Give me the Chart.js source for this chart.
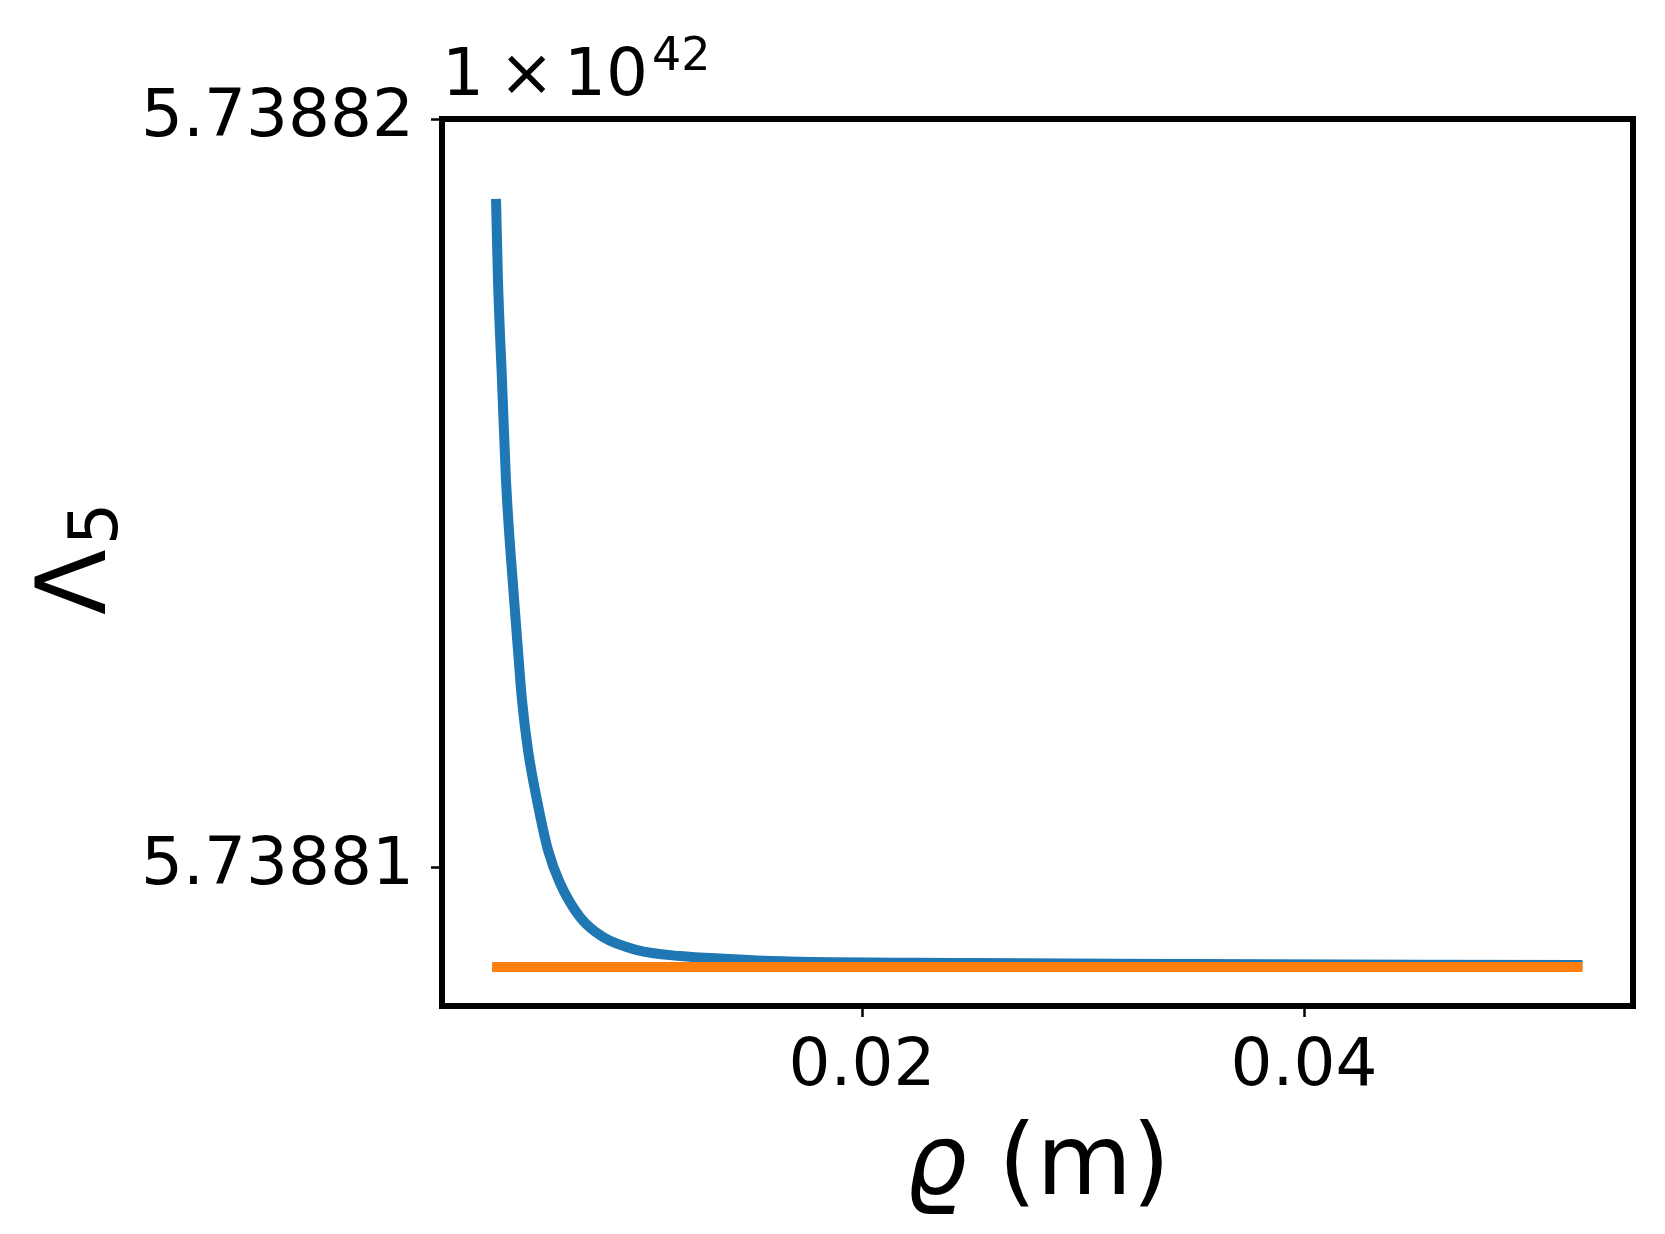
<!DOCTYPE html>
<html>
<head>
<meta charset="utf-8">
<script src="https://cdn.jsdelivr.net/npm/chart.js@4.4.1/dist/chart.umd.min.js"></script>
<style>
  html, body { margin: 0; padding: 0; background: #fff; }
  #contenedor { width: 1665px; height: 1234px; }
</style>
</head>
<body>
<div id="contenedor"><canvas id="grafica" width="1665" height="1234"></canvas></div>
<script>
// Valores: rho en metros, Lambda_5 en unidades de 1e42
const rhoAzul = [0.003439, 0.003529, 0.003710, 0.003891, 0.004253, 0.004434, 0.004615,
  0.004887, 0.005294, 0.005792, 0.006335, 0.007240, 0.008281, 0.009819, 0.011765,
  0.014027, 0.015837, 0.0250, 0.0350, 0.0526];
const lambdaAzul = [5.7388189319, 5.7388178371, 5.7388165020, 5.7388151669, 5.7388135914,
  5.7388128972, 5.7388122296, 5.7388115621, 5.7388108945, 5.7388102270, 5.7388097864,
  5.7388093324, 5.7388090654, 5.7388088919, 5.7388088117, 5.7388087717, 5.7388087450,
  5.7388087183, 5.7388087049, 5.7388086916];

const rhoNaranja = [0.00326, 0.0526];
const lambdaNaranja = [5.7388086649, 5.7388086649];

// Marcas de los ejes
const ticksX = [0.02, 0.04];
const ticksY = [5.73881, 5.73882];
const exponente = '42';

const fuente = '"DejaVu Sans", sans-serif';

// Dibuja el marco, el factor 1e42 y los títulos de los ejes
const marcoYEtiquetas = {
  id: 'marcoYEtiquetas',
  afterDraw(chart) {
    const { ctx, chartArea } = chart;
    ctx.save();
    ctx.strokeStyle = '#000';
    ctx.lineWidth = 6;
    ctx.strokeRect(chartArea.left, chartArea.top, chartArea.right - chartArea.left, chartArea.bottom - chartArea.top);

    ctx.fillStyle = '#000';
    ctx.textAlign = 'left';
    ctx.textBaseline = 'alphabetic';

    // factor de escala arriba a la izquierda
    ctx.font = '66px ' + fuente;
    ctx.fillText('1', 442, 95);
    ctx.fillText('\u00d7', 499, 95);
    ctx.fillText('10', 564, 95);
    ctx.font = '46px ' + fuente;
    ctx.fillText(exponente, 652, 70);

    // título del eje x: rho (m)
    const centroX = (chartArea.left + chartArea.right) / 2;
    ctx.font = 'italic 98px ' + fuente;
    const anchoRho = ctx.measureText('\u03f1').width;
    ctx.font = '98px ' + fuente;
    const anchoResto = ctx.measureText(' (m)').width;
    const inicio = centroX - (anchoRho + anchoResto) / 2;
    ctx.font = 'italic 98px ' + fuente;
    ctx.fillText('\u03f1', inicio, 1194);
    ctx.font = '98px ' + fuente;
    ctx.fillText(' (m)', inicio + anchoRho, 1194);

    // título del eje y: Lambda_5
    ctx.translate(105, 615);
    ctx.rotate(-Math.PI / 2);
    ctx.font = '96px ' + fuente;
    ctx.fillText('\u039b', 0, 0);
    const anchoLambda = ctx.measureText('\u039b').width;
    ctx.font = '67px ' + fuente;
    ctx.fillText('5', anchoLambda + 4, 12);
    ctx.restore();
  }
};

const lienzo = document.getElementById('grafica');

new Chart(lienzo, {
  type: 'line',
  data: {
    datasets: [{
      label: 'azul',
      data: rhoAzul.map((x, i) => ({ x: x, y: lambdaAzul[i] })),
      borderColor: '#1f77b4',
      borderWidth: 10,
      borderCapStyle: 'butt',
      pointRadius: 0,
      cubicInterpolationMode: 'monotone',
      fill: false,
      order: 2
    }, {
      label: 'naranja',
      data: rhoNaranja.map((x, i) => ({ x: x, y: lambdaNaranja[i] })),
      borderColor: '#ff7f0e',
      borderWidth: 10,
      borderCapStyle: 'butt',
      pointRadius: 0,
      fill: false,
      order: 1
    }]
  },
  options: {
    responsive: false,
    animation: false,
    devicePixelRatio: 1,
    layout: { padding: { top: 119, right: 32, left: 0, bottom: 0 } },
    plugins: {
      legend: { display: false },
      tooltip: { enabled: false },
      title: { display: false }
    },
    scales: {
      x: {
        type: 'linear',
        min: 0.000995,
        max: 0.054887,
        afterBuildTicks: (scale) => { scale.ticks = ticksX.map(v => ({ value: v })); },
        afterFit: (scale) => { scale.height = 228; },
        border: { display: false },
        grid: { display: true, drawOnChartArea: false, drawTicks: true, tickLength: 11, tickWidth: 2.5, color: '#000' },
        ticks: {
          color: '#000',
          padding: 11,
          maxRotation: 0,
          autoSkip: false,
          font: { family: 'DejaVu Sans', size: 66 },
          callback: (v) => Number(v).toFixed(2)
        }
      },
      y: {
        type: 'linear',
        min: 5.7388081442,
        max: 5.73882,
        afterBuildTicks: (scale) => { scale.ticks = ticksY.map(v => ({ value: v })); },
        afterFit: (scale) => { scale.width = 442; },
        border: { display: false },
        grid: { display: true, drawOnChartArea: false, drawTicks: true, tickLength: 11, tickWidth: 2.5, color: '#000' },
        ticks: {
          color: '#000',
          padding: 17,
          autoSkip: false,
          font: { family: 'DejaVu Sans', size: 66 },
          callback: (v) => Number(v).toFixed(5)
        }
      }
    }
  },
  plugins: [marcoYEtiquetas]
});
</script>
</body>
</html>
